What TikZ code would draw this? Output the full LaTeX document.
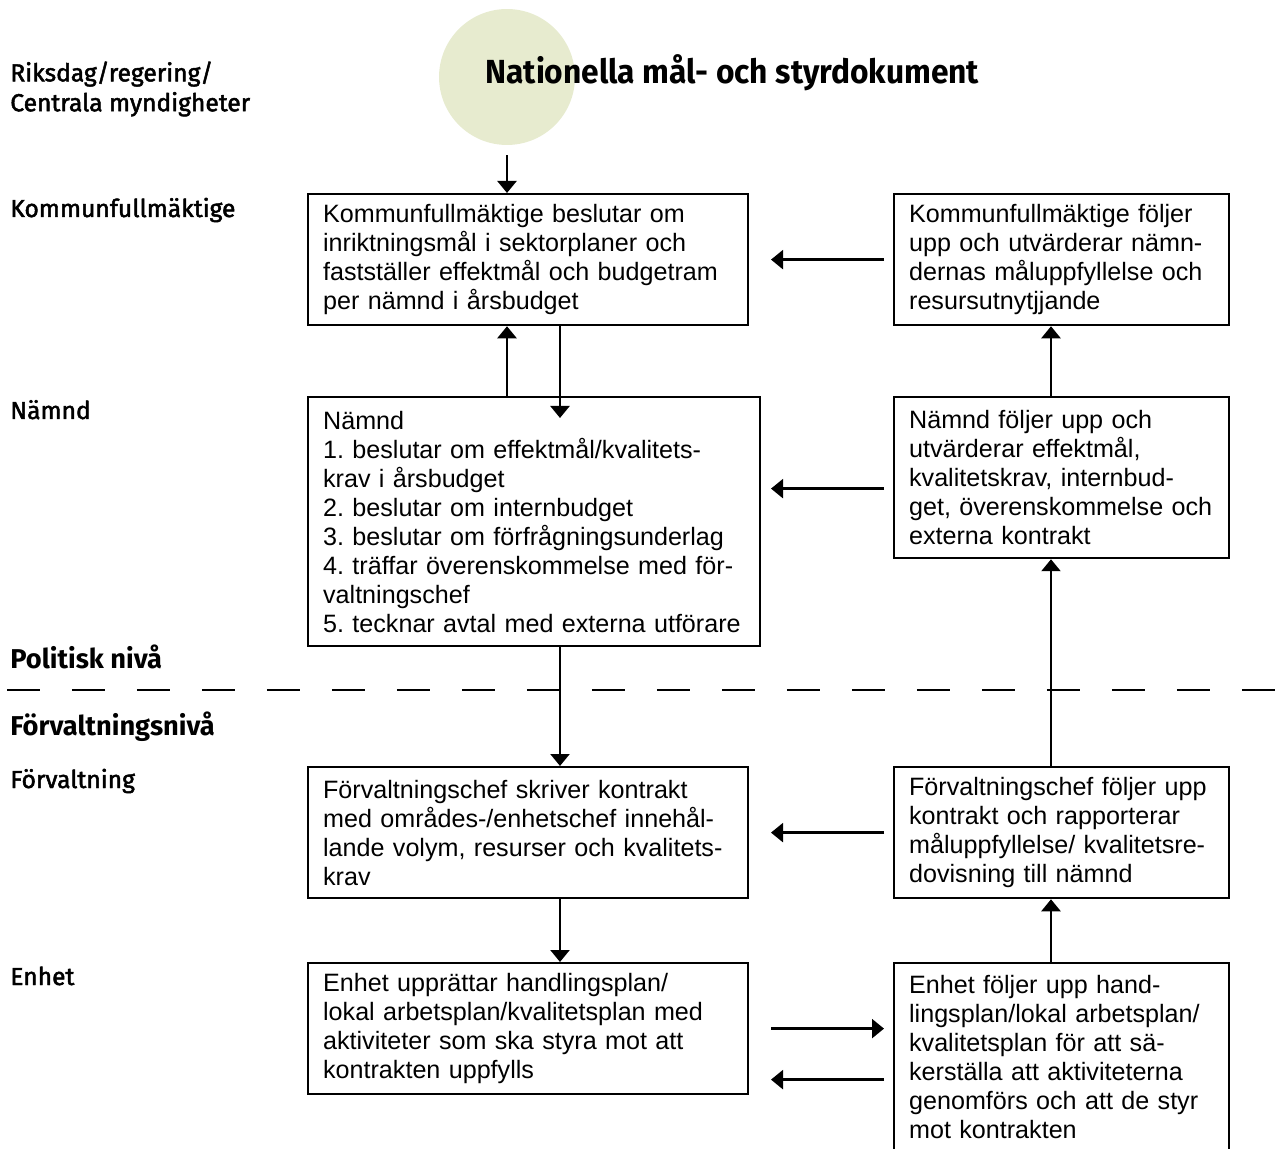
\documentclass[tikz,border=0pt]{standalone}
\usepackage{fontspec}
\usepackage{tikz}
\usetikzlibrary{arrows.meta,calc}
\frenchspacing
\newfontfamily\brodtext{Liberation Sans}
\newfontfamily\radfont[FakeBold=2]{Fira Sans}
\newfontfamily\rubrikfont{Fira Sans}
\newfontfamily\titelfont[FakeStretch=0.95]{Fira Sans}
\definecolor{nationell}{RGB}{231,235,207}
\tikzset{
  ruta/.style={draw, line width=1.3pt, anchor=north west, align=left,
    inner xsep=0.3cm, inner ysep=0pt,
    font=\brodtext\fontsize{14.3}{16.5}\selectfont},
  pil/.style={line width=1.3pt, -{Triangle[length=0.24cm,width=0.38cm]}},
  radtext/.style={anchor=base west, inner sep=0pt, align=left,
    font=\radfont\fontsize{14}{17}\selectfont},
  nivatext/.style={anchor=base west, inner sep=0pt,
    font=\rubrikfont\bfseries\fontsize{15.5}{18}\selectfont},
}

\begin{document}
\begin{tikzpicture}[x=0.02cm,y=-0.02cm]
        \useasboundingbox (0,0) rectangle (1275,1151);
        \clip (0,0) rectangle (1275,1148);

        % nationell nivå
        \node[circle, fill=nationell, minimum size=2.72cm, inner sep=0pt] (nat) at (507,77) {};
        \node[anchor=base west, inner sep=0pt, font=\titelfont\bfseries\fontsize{19}{22}\selectfont]
            (natTitle) at (485,84) {Nationella mål- och styrdokument};

        % nivåer till vänster
        \node[radtext, anchor=west] (riksdag) at (10,89) {Riksdag/regering/\\Centrala myndigheter};
        \node[radtext] (kfRad) at (10,217) {Kommunfullmäktige};
        \node[radtext] (namndRad) at (10,419) {Nämnd};
        \node[nivatext] (politisk) at (10,669) {Politisk nivå};
        \node[nivatext] (forvNiva) at (10,736) {Förvaltningsnivå};
        \node[radtext] (forvRad) at (10,788) {Förvaltning};
        \node[radtext] (enhetRad) at (10,985) {Enhet};

        \draw[line width=1.3pt, dash pattern=on 0.66cm off 0.64cm] (7,690) -- (1275,690);

        % rutor
        \node[ruta, text width=8.2cm, minimum height=2.62cm] (kfbeslut) at (307,193)
            {Kommunfullmäktige beslutar om\\inriktningsmål i sektorplaner och\\fastställer effektmål och budgetram\\per nämnd i årsbudget};
        \node[ruta, text width=6.1cm, minimum height=2.62cm] (kffoljer) at (893,193)
            {Kommunfullmäktige följer\\upp och utvärderar nämn-\\dernas måluppfyllelse och\\resursutnytjjande};
        \node[ruta, text width=8.44cm, minimum height=4.98cm] (namnd) at (307,396)
            {Nämnd\\1. beslutar om effektmål/kvalitets-\\krav i årsbudget\\2. beslutar om internbudget\\3. beslutar om förfrågningsunderlag\\4. träffar överenskommelse med för-\\valtningschef\\\mbox{5. tecknar avtal med externa utförare}};
        \node[ruta, text width=6.1cm, minimum height=3.22cm] (namndfoljer) at (893,396)
            {Nämnd följer upp och\\utvärderar effektmål,\\kvalitetskrav, internbud-\\get, överenskommelse och\\externa kontrakt};
        \node[ruta, text width=8.2cm, minimum height=2.62cm] (fchef) at (307,766)
            {Förvaltningschef skriver kontrakt\\med områdes-/enhetschef innehål-\\lande volym, resurser och kvalitets-\\krav};
        \node[ruta, text width=6.1cm, minimum height=2.62cm] (fchefFoljer) at (893,766)
            {Förvaltningschef följer upp\\kontrakt och rapporterar\\måluppfyllelse/ kvalitetsre-\\dovisning till nämnd};
        \node[ruta, text width=8.2cm, minimum height=2.62cm] (enhet) at (307,962)
            {Enhet upprättar handlingsplan/\\lokal arbetsplan/kvalitetsplan med\\aktiviteter som ska styra mot att\\kontrakten uppfylls};
        \node[ruta, text width=6.1cm, minimum height=3.74cm] (enhetFoljer) at (893,962)
            {Enhet följer upp hand-\\lingsplan/lokal arbetsplan/\\kvalitetsplan för att sä-\\kerställa att aktiviteterna\\genomförs och att de styr\\mot kontrakten};

        % pilar
        \coordinate (colM) at (560,0);
        \coordinate (colR) at (1051,0);
        \coordinate (hL) at (771,0);
        \coordinate (hR) at (884,0);
        \draw[pil, shorten <=0.2cm] (nat.south) -- (nat.south |- kfbeslut.north);
        \draw[pil] (namnd.north -| nat) -- (kfbeslut.south -| nat);
        \draw[pil] (kfbeslut.south -| colM) -- ($(namnd.north -| colM)+(0,22)$);
        \draw[pil] (namnd.south -| colM) -- (fchef.north -| colM);
        \draw[pil] (fchef.south -| colM) -- (enhet.north -| colM);
        \draw[pil] (namndfoljer.north -| colR) -- (kffoljer.south -| colR);
        \draw[pil] (fchefFoljer.north -| colR) -- (namndfoljer.south -| colR);
        \draw[pil] (enhetFoljer.north -| colR) -- (fchefFoljer.south -| colR);
        \draw[pil] (kffoljer.west -| hR) -- (kfbeslut.east -| hL);
        \draw[pil] ($(namndfoljer.west -| hR)+(0,11)$) -- ($(namndfoljer.west -| hL)+(0,11)$);
        \draw[pil] (fchefFoljer.west -| hR) -- (fchef.east -| hL);
        \draw[pil] (enhet.east -| hL) -- (enhet.east -| hR);
        \draw[pil] ($(enhet.east -| hR)+(0,51)$) -- ($(enhet.east -| hL)+(0,51)$);
    \end{tikzpicture}
\end{document}
